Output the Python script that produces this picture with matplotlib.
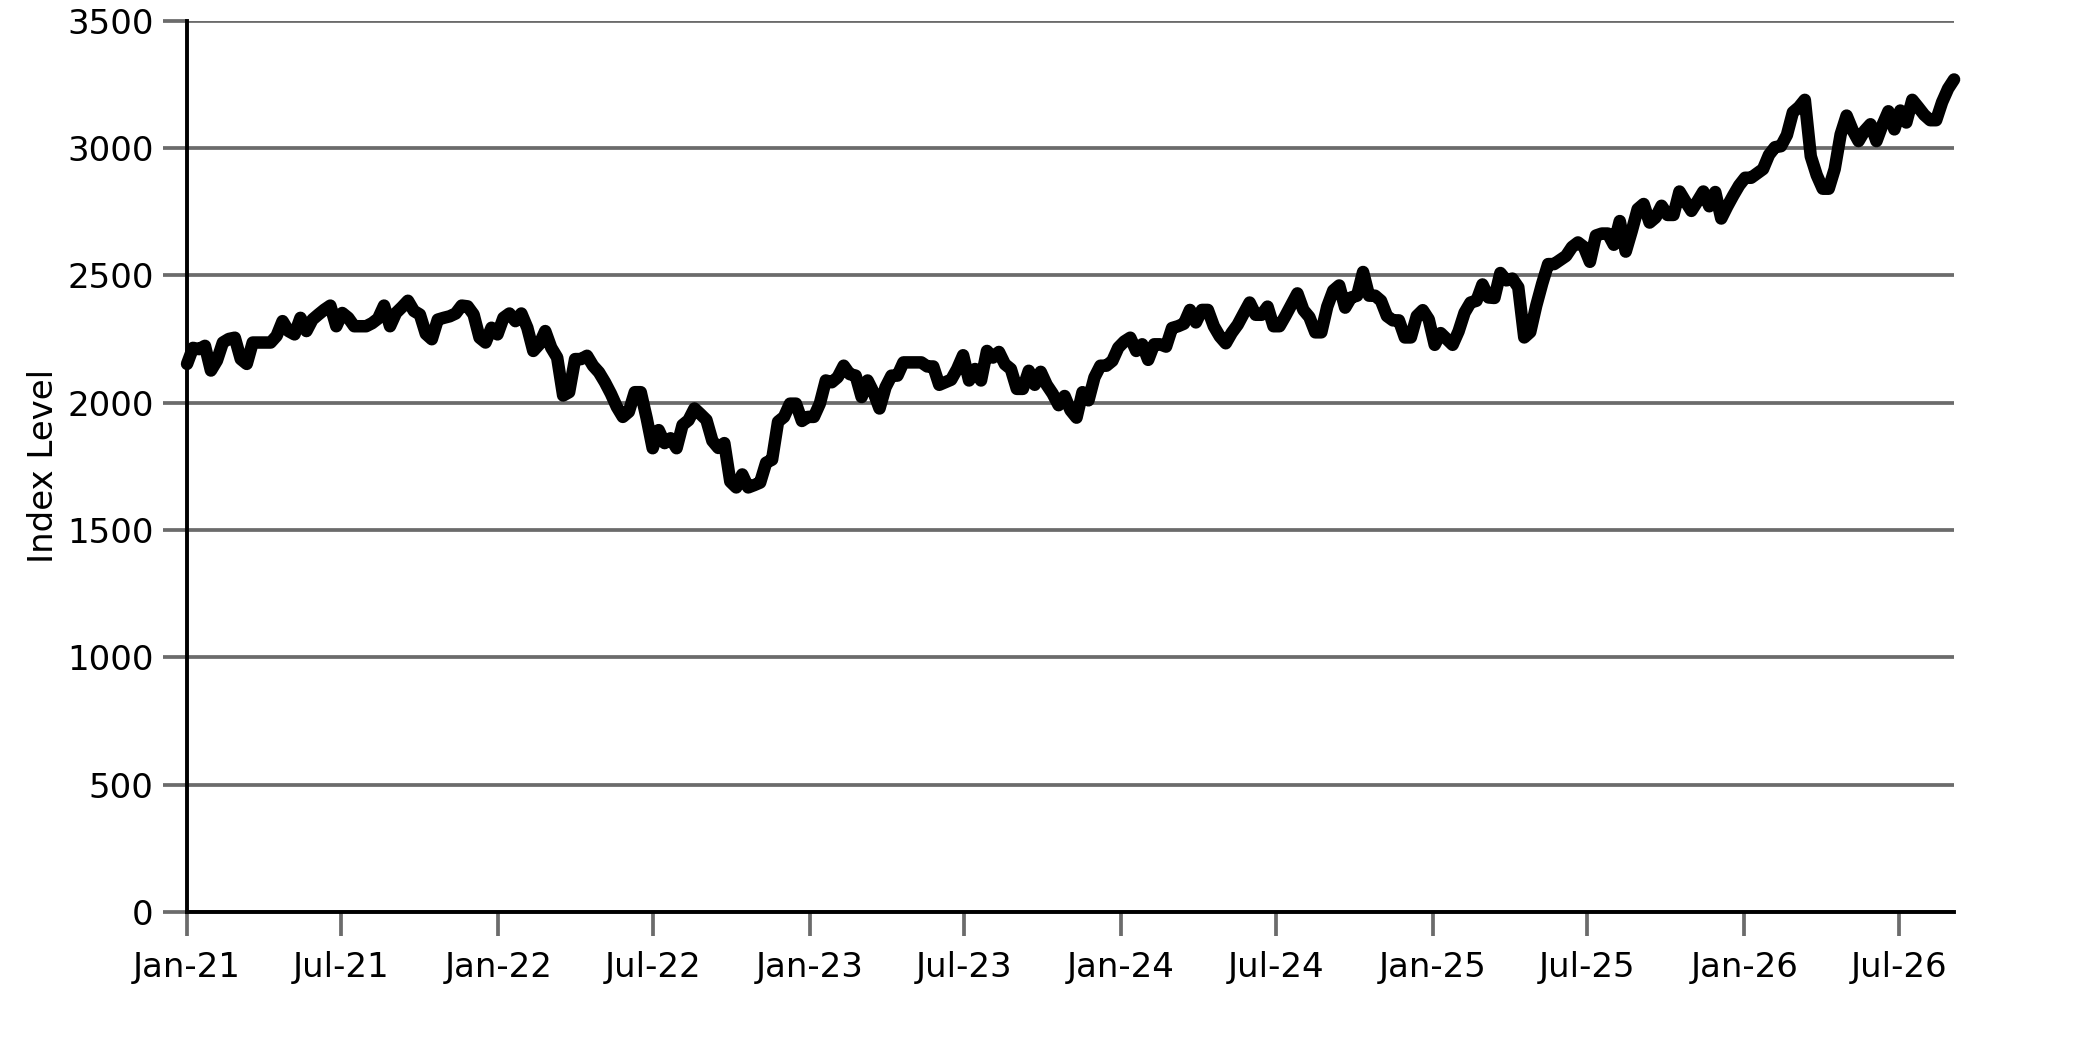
import matplotlib
matplotlib.use("Agg")
import matplotlib.pyplot as plt
import matplotlib.dates as mdates
import pandas as pd

# weekly index level
start_date = "2021-01-01"

level_2021 = [2152, 2215, 2210, 2223, 2126, 2165, 2236, 2250, 2255, 2171,
              2152, 2236, 2236, 2236, 2236, 2262, 2320, 2281, 2268, 2333,
              2281, 2326, 2346, 2365, 2381, 2300, 2352, 2333, 2300, 2300,
              2300, 2312, 2330, 2381, 2300, 2352, 2375, 2400, 2360, 2346,
              2270, 2249, 2326, 2333, 2339, 2350, 2381, 2378, 2346, 2255,
              2236, 2294]
level_2022 = [2268, 2333, 2350, 2320, 2350, 2294, 2203, 2229,
              2281, 2216, 2177, 2028, 2041, 2171, 2171, 2184, 2145, 2119,
              2080, 2035, 1983, 1944, 1964, 2041, 2041, 1938, 1821, 1892,
              1841, 1860, 1821, 1912, 1931, 1977, 1955, 1932, 1850, 1822,
              1841, 1690, 1667, 1718, 1667, 1676, 1686, 1764, 1776, 1925,
              1944, 1996, 1996, 1928]
level_2023 = [1944, 1944, 1996, 2087, 2080, 2100,
              2145, 2112, 2106, 2022, 2087, 2040, 1977, 2060, 2106, 2106,
              2158, 2158, 2158, 2158, 2142, 2142, 2070, 2080, 2090, 2132,
              2186, 2087, 2132, 2087, 2203, 2177, 2199, 2151, 2132, 2054,
              2054, 2125, 2070, 2121, 2070, 2035, 1990, 2026, 1970, 1941,
              2041, 2009, 2099, 2145, 2145, 2164]
level_2024 = [2216, 2240, 2255, 2203,
              2229, 2168, 2229, 2229, 2220, 2293, 2300, 2310, 2364, 2315,
              2364, 2364, 2300, 2260, 2233, 2274, 2306, 2350, 2393, 2345,
              2345, 2377, 2300, 2300, 2341, 2385, 2429, 2364, 2336, 2276,
              2276, 2377, 2440, 2460, 2373, 2413, 2420, 2513, 2420, 2420,
              2400, 2340, 2323, 2323, 2256, 2256, 2340, 2363]
level_2025 = [2327, 2227,
              2273, 2250, 2227, 2280, 2353, 2393, 2400, 2464, 2413, 2411,
              2509, 2480, 2487, 2453, 2256, 2277, 2380, 2467, 2544, 2544,
              2560, 2576, 2611, 2629, 2611, 2553, 2656, 2664, 2664, 2620,
              2713, 2593, 2673, 2760, 2780, 2707, 2727, 2773, 2737, 2737,
              2829, 2790, 2753, 2790, 2829, 2771, 2827, 2723, 2770, 2813]
level_2026 = [2853, 2883, 2883, 2900, 2917, 2973, 3003, 3007, 3051, 3140,
              3160, 3189, 2967, 2893, 2840, 2840, 2917, 3053, 3127, 3070,
              3027, 3067, 3093, 3027, 3090, 3144, 3073, 3147, 3100, 3189,
              3160, 3130, 3109, 3109, 3180, 3233, 3269]

values = level_2021 + level_2022 + level_2023 + level_2024 + level_2025 + level_2026
dates = pd.date_range(start_date, periods=len(values), freq="7D")

grid_gray = "#6b6b6b"
font_size = 24.5

fig = plt.figure(figsize=(20.83, 10.42), dpi=100)
ax = fig.add_axes([0.0898, 0.1248, 0.8483, 0.8554])

ax.plot(dates, values, color="black", lw=9, solid_joinstyle="round",
        solid_capstyle="round", clip_on=False, zorder=3)

ax.set_ylim(0, 3500)
ax.set_xlim(dates[0], dates[-1])
ax.set_yticks(range(0, 3501, 500))
ax.yaxis.grid(True, color=grid_gray, lw=2.7)
ax.set_axisbelow(True)

ax.xaxis.set_major_locator(mdates.MonthLocator(bymonth=[1, 7]))
ax.xaxis.set_major_formatter(mdates.DateFormatter("%b-%y"))

ax.tick_params(axis="y", length=17, width=2.7, color=grid_gray, pad=7, labelsize=font_size)
ax.tick_params(axis="x", length=17, width=2.7, color=grid_gray, pad=11, labelsize=font_size)

for side in ["top", "right"]:
    ax.spines[side].set_visible(False)
for side in ["left", "bottom"]:
    ax.spines[side].set_linewidth(2.8)

ax.set_ylabel("Index Level", fontsize=font_size, labelpad=5)

fig.savefig("out.png", dpi=100)
